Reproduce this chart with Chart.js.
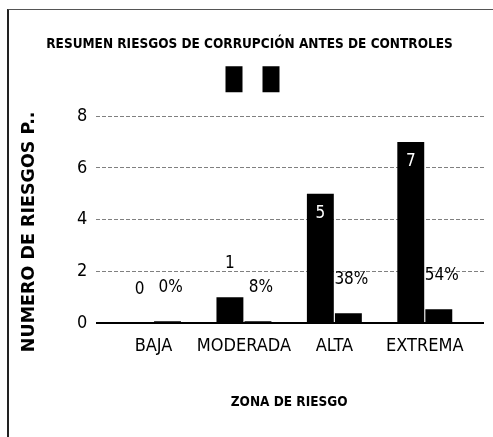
<!DOCTYPE html>
<html>
<head>
<meta charset="utf-8">
<script src="https://cdn.jsdelivr.net/npm/chart.js@4.4.0/dist/chart.umd.min.js"></script>
<style>
  html, body { margin: 0; padding: 0; background: #fff; }
  #frame {
    position: absolute; left: 7px; top: 9px; width: 486px; height: 428px;
    border-left: 2px solid #222; border-top: 1px solid #555;
  }
  #frame canvas { display: block; }
</style>
</head>
<body>
<div id="frame"><canvas id="riesgosChart" width="484" height="427"></canvas></div>
<script>
const zonas = ["BAJA", "MODERADA", "ALTA", "EXTREMA"];
const numRiesgos = [0, 1, 5, 7];
const porcentaje = [0, 0.08, 0.38, 0.54];
const yTicks = [0, 2, 4, 6, 8];

const narrow = "'DejaVu Sans Condensed', 'Liberation Sans Narrow', 'Arial Narrow', sans-serif";

// shrink the category axis inside the plot (Excel leaves a gap at both ends)
// and nudge the legend a bit to the right
const tweakLayout = {
  id: "tweakLayout",
  afterLayout(chart) {
    const x = chart.scales.x;
    x.left += 12;
    x.right -= 14;
    x.width = x.right - x.left;
    x.configure();
    chart.legend.left += 6;
    chart.legend.right += 6;
  }
};

// some room under the legend
const legendGap = {
  id: "legendGap",
  afterInit(chart) {
    const lg = chart.legend;
    const fit = lg.fit;
    lg.fit = function () {
      fit.call(this);
      this.height += 14;
    };
  }
};

// data labels
const barLabels = {
  id: "barLabels",
  afterDatasetsDraw(chart) {
    const ctx = chart.ctx;
    ctx.save();
    ctx.font = "17px " + narrow;
    ctx.textAlign = "center";
    ctx.textBaseline = "middle";
    chart.data.datasets.forEach((ds, di) => {
      chart.getDatasetMeta(di).data.forEach((bar, i) => {
        const v = ds.data[i];
        const txt = di === 0 ? String(v) : Math.round(v * 100) + "%";
        if (di === 0 && v >= 5) {
          ctx.fillStyle = "#fff";
          ctx.fillText(txt, bar.x, bar.y + 20);
        } else {
          ctx.fillStyle = "#000";
          ctx.fillText(txt, bar.x + (di === 1 ? 3 : 0), bar.y - 34);
        }
      });
    });
    ctx.restore();
  }
};

const isZero = c => c.tick && c.tick.value === 0;

const ctx = document.getElementById("riesgosChart").getContext("2d");

const chart = new Chart(ctx, {
  type: "bar",
  data: {
    labels: zonas,
    datasets: [
      {
        label: "Número de riesgos",
        data: numRiesgos,
        backgroundColor: "#000",
        categoryPercentage: 0.62,
        barPercentage: 0.96
      },
      {
        label: "Porcentaje",
        data: porcentaje,
        backgroundColor: "#000",
        categoryPercentage: 0.62,
        barPercentage: 0.96,
        minBarLength: 2
      }
    ]
  },
  options: {
    responsive: false,
    animation: false,
    layout: { padding: { left: 6, right: 9, bottom: 22 } },
    plugins: {
      title: {
        display: true,
        text: "RESUMEN RIESGOS DE CORRUPCIÓN ANTES DE CONTROLES",
        color: "#000",
        font: { family: narrow, size: 13.5, weight: "bold" },
        padding: { top: 26, bottom: 0 }
      },
      legend: {
        display: true,
        labels: {
          boxWidth: 17,
          boxHeight: 26,
          padding: 14,
          font: { size: 12 },
          generateLabels(chart) {
            return chart.data.datasets.map((ds, i) => ({
              text: "",
              fillStyle: "#000",
              strokeStyle: "#000",
              lineWidth: 0,
              datasetIndex: i
            }));
          }
        }
      },
      tooltip: { enabled: false }
    },
    scales: {
      x: {
        grid: { display: false },
        border: { display: false },
        ticks: { color: "#000", font: { family: narrow, size: 18 }, padding: 4, maxRotation: 0, autoSkip: false },
        title: {
          display: true,
          text: "ZONA DE RIESGO",
          color: "#000",
          font: { family: narrow, size: 13.5, weight: "bold" },
          padding: { top: 34 }
        }
      },
      y: {
        min: 0,
        max: 8,
        afterBuildTicks(scale) {
          scale.ticks = yTicks.map(v => ({ value: v }));
        },
        border: { display: false, dash: c => (isZero(c) ? [] : [4, 2]) },
        grid: {
          drawTicks: false,
          color: c => (isZero(c) ? "#000" : "#808080"),
          lineWidth: c => (isZero(c) ? 2 : 1)
        },
        ticks: { color: "#000", font: { family: narrow, size: 18 }, padding: 9 },
        title: {
          display: true,
          text: "NUMERO DE RIESGOS P..    ",
          color: "#000",
          font: { family: "'DejaVu Sans', sans-serif", size: 17.5, weight: "bold" },
          padding: { bottom: 28 }
        }
      }
    }
  },
  plugins: [tweakLayout, legendGap, barLabels]
});
</script>
</body>
</html>
